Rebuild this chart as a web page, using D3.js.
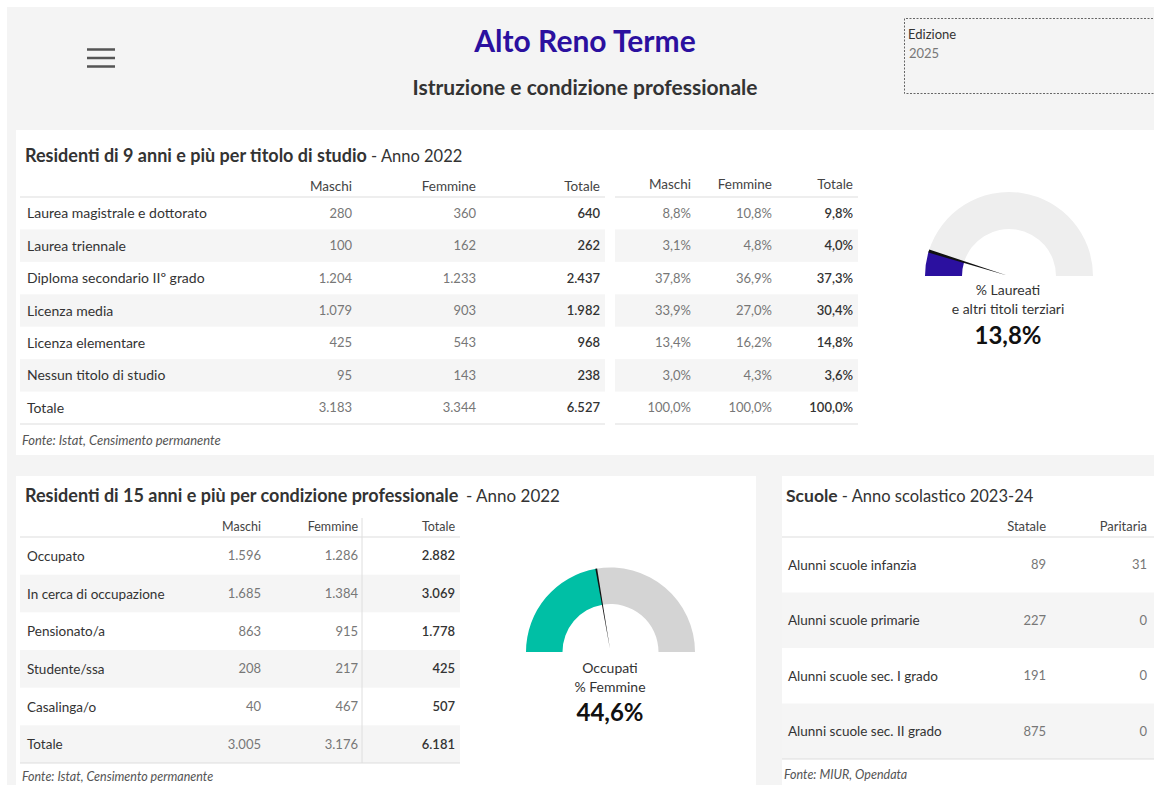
<!DOCTYPE html>
<html>
<head>
<meta charset="utf-8">
<script src="https://cdn.jsdelivr.net/npm/d3@7"></script>
<style>
  html, body { margin: 0; padding: 0; background: #fff; }
  svg { display: block; font-family: Lato, "Open Sans", sans-serif; }
</style>
</head>
<body>
<svg id="chart" width="1154" height="785"></svg>
<script>
// ---------------- DATA ----------------
const pageTitle = "Alto Reno Terme";
const pageSubtitle = "Istruzione e condizione professionale";
const edizioneLabel = "Edizione";
const edizioneValue = "2025";

const studioTitle = "Residenti di 9 anni e più per titolo di studio";
const studioYear = " - Anno 2022";
const studioColumns = ["Maschi", "Femmine", "Totale"];
const studioCategories = ["Laurea magistrale e dottorato", "Laurea triennale", "Diploma secondario IIº grado", "Licenza media", "Licenza elementare", "Nessun titolo di studio", "Totale"];
const studioMaschi = [280, 100, 1204, 1079, 425, 95, 3183];
const studioFemmine = [360, 162, 1233, 903, 543, 143, 3344];
const studioTotale = [640, 262, 2437, 1982, 968, 238, 6527];
const studioPctMaschi = [8.8, 3.1, 37.8, 33.9, 13.4, 3.0, 100.0];
const studioPctFemmine = [10.8, 4.8, 36.9, 27.0, 16.2, 4.3, 100.0];
const studioPctTotale = [9.8, 4.0, 37.3, 30.4, 14.8, 3.6, 100.0];
const studioSource = "Fonte: Istat, Censimento permanente";

const laureatiLabel = ["% Laureati", "e altri titoli terziari"];
const laureatiValue = 13.8;      // shown value
const laureatiArc = 9.6;         // filled share as drawn in the gauge

const condTitle = "Residenti di 15 anni e più per condizione professionale";
const condYear = "- Anno 2022";
const condColumns = ["Maschi", "Femmine", "Totale"];
const condCategories = ["Occupato", "In cerca di occupazione", "Pensionato/a", "Studente/ssa", "Casalinga/o", "Totale"];
const condMaschi = [1596, 1685, 863, 208, 40, 3005];
const condFemmine = [1286, 1384, 915, 217, 467, 3176];
const condTotale = [2882, 3069, 1778, 425, 507, 6181];
const condSource = "Fonte: Istat, Censimento permanente";

const occupatiLabel = ["Occupati", "% Femmine"];
const occupatiFemminePct = 44.6;

const scuoleTitle = "Scuole";
const scuoleYear = " - Anno scolastico 2023-24";
const scuoleColumns = ["Statale", "Paritaria"];
const scuoleCategories = ["Alunni scuole infanzia", "Alunni scuole primarie", "Alunni scuole sec. I grado", "Alunni scuole sec. II grado"];
const scuoleStatale = [89, 227, 191, 875];
const scuoleParitaria = [31, 0, 0, 0];
const scuoleSource = "Fonte: MIUR, Opendata";

// ---------------- HELPERS ----------------
const it = d3.formatLocale({decimal: ",", thousands: ".", grouping: [3], currency: ["€", ""]});
const fInt = it.format(",d");
const fPct = v => it.format(".1f")(v) + "%";

const svg = d3.select("#chart");
const C = {
  bg: "#f4f4f4", stripe: "#f5f5f5", line: "#dedede", dark: "#333333", grey: "#777777",
  blue: "#2b109f", teal: "#00bfa5"
};

// backgrounds
svg.append("rect").attr("x", 7).attr("y", 7).attr("width", 1147).attr("height", 778).attr("fill", C.bg);
svg.append("rect").attr("x", 16).attr("y", 130).attr("width", 1138).attr("height", 325).attr("fill", "#fff");
svg.append("rect").attr("x", 16).attr("y", 476).attr("width", 740).attr("height", 309).attr("fill", "#fff");
svg.append("rect").attr("x", 782).attr("y", 476).attr("width", 372).attr("height", 309).attr("fill", "#fff");

// header
const ham = svg.append("g");
[49.5, 58, 66.5].forEach(y => ham.append("line").attr("x1", 87).attr("x2", 115).attr("y1", y).attr("y2", y)
  .attr("stroke", "#555").attr("stroke-width", 2.5));
svg.append("text").attr("x", 585).attr("y", 52).attr("text-anchor", "middle")
  .attr("font-size", 30).attr("font-weight", 700).attr("fill", C.blue).text(pageTitle);
svg.append("text").attr("x", 585).attr("y", 95).attr("text-anchor", "middle")
  .attr("font-size", 21).attr("font-weight", 700).attr("fill", C.dark).text(pageSubtitle);
svg.append("path").attr("d", "M1160,18.5H904.5V93.5H1160")
  .attr("fill", "none").attr("stroke", "#666").attr("stroke-dasharray", "2,1.5");
svg.append("text").attr("x", 908).attr("y", 39).attr("font-size", 13).attr("fill", C.dark).text(edizioneLabel);
svg.append("text").attr("x", 909).attr("y", 58).attr("font-size", 13).attr("fill", C.grey).text(edizioneValue);

function titleText(x, y, bold, rest, size, restSize) {
  const t = svg.append("text").attr("x", x).attr("y", y).attr("font-size", size).attr("fill", C.dark);
  t.append("tspan").attr("font-weight", 700).text(bold);
  if (rest) t.append("tspan").attr("font-weight", 400).attr("font-size", restSize || size).text(rest);
  return t;
}

// generic table drawing
function drawTable(opt) {
  const g = svg.append("g");
  const y = d3.scaleBand().domain(d3.range(opt.rows.length)).range([opt.top, opt.bottom]);
  opt.stripeSpans.forEach(([x0, x1]) => {
    g.selectAll(null).data(d3.range(opt.rows.length).filter(i => i % 2 === 1)).join("rect")
      .attr("x", x0).attr("width", x1 - x0).attr("y", i => y(i)).attr("height", y.bandwidth())
      .attr("fill", C.stripe);
    g.append("line").attr("x1", x0).attr("x2", x1).attr("y1", opt.top).attr("y2", opt.top).attr("stroke", C.line).attr("stroke-width", 1.2);
    g.append("line").attr("x1", x0).attr("x2", x1).attr("y1", opt.bottom).attr("y2", opt.bottom).attr("stroke", C.line).attr("stroke-width", 1.2);
  });
  if (opt.vline) {
    g.append("line").attr("x1", opt.vline[0]).attr("x2", opt.vline[0]).attr("y1", opt.vline[1]).attr("y2", opt.bottom)
      .attr("stroke", C.line);
  }
  if (opt.rows && opt.labelX != null) {
    g.selectAll(null).data(opt.rows).join("text")
      .attr("x", opt.labelX).attr("y", (d, i) => y(i) + y.bandwidth() / 2 + 5)
      .attr("font-size", opt.labelSize).attr("fill", C.dark).text(d => d);
  }
  opt.columns.forEach(col => {
    g.append("text").attr("x", col.x).attr("y", opt.headerY).attr("text-anchor", "end")
      .attr("font-size", opt.headerSize).attr("fill", "#444").text(col.name);
    g.selectAll(null).data(col.values).join("text")
      .attr("x", col.x).attr("y", (d, i) => y(i) + y.bandwidth() / 2 + 4.5).attr("text-anchor", "end")
      .attr("font-size", opt.fontSize).attr("fill", col.strong ? C.dark : C.grey)
      .attr("font-weight", col.strong ? 600 : 400).text(d => col.fmt(d));
  });
  return g;
}

// ---------- Panel 1 ----------
titleText(25, 162, studioTitle, studioYear, 18, 16.5);
drawTable({
  rows: studioCategories, top: 197, bottom: 424, labelX: 27, labelSize: 14, fontSize: 13, headerSize: 13.5, headerY: 191,
  stripeSpans: [[20, 605], [615, 858]],
  columns: [
    {name: studioColumns[0], x: 352, values: studioMaschi, fmt: fInt},
    {name: studioColumns[1], x: 476, values: studioFemmine, fmt: fInt},
    {name: studioColumns[2], x: 600, values: studioTotale, fmt: fInt, strong: true},
  ]
});
drawTable({
  rows: studioCategories, top: 197, bottom: 424, labelX: null, fontSize: 13, headerSize: 13.5, headerY: 189,
  stripeSpans: [],
  columns: [
    {name: studioColumns[0], x: 691, values: studioPctMaschi, fmt: fPct},
    {name: studioColumns[1], x: 772, values: studioPctFemmine, fmt: fPct},
    {name: studioColumns[2], x: 853, values: studioPctTotale, fmt: fPct, strong: true},
  ]
});
svg.append("text").attr("x", 22).attr("y", 445).attr("font-size", 13).attr("font-style", "italic")
  .attr("fill", "#555").text(studioSource);

// ---------- Gauges ----------
const angle = d3.scaleLinear().domain([0, 100]).range([-Math.PI / 2, Math.PI / 2]);
function gauge(cx, cy, rOut, rIn, arcValue, color, restColor, needleW) {
  const g = svg.append("g").attr("transform", `translate(${cx},${cy})`);
  const arc = d3.arc().innerRadius(rIn).outerRadius(rOut);
  g.append("path").attr("d", arc({startAngle: angle(arcValue), endAngle: angle(100)})).attr("fill", restColor);
  g.append("path").attr("d", arc({startAngle: angle(0), endAngle: angle(arcValue)})).attr("fill", color);
  const a = angle(arcValue);
  const ux = Math.sin(a), uy = -Math.cos(a);
  const px = -uy, py = ux;
  const pts = [
    [ux * rOut + px * needleW, uy * rOut + py * needleW],
    [ux * rOut - px * needleW, uy * rOut - py * needleW],
    [ux * 2, uy * 2]
  ];
  g.append("path").attr("d", d3.line()(pts) + "Z").attr("fill", "#111");
  return g;
}
function gaugeText(cx, lines, ys, value, vy) {
  lines.forEach((l, i) => svg.append("text").attr("x", cx).attr("y", ys[i]).attr("text-anchor", "middle")
    .attr("font-size", 14).attr("fill", C.dark).text(l));
  svg.append("text").attr("x", cx).attr("y", vy).attr("text-anchor", "middle")
    .attr("font-size", 24).attr("font-weight", 700).attr("fill", "#111").text(fPct(value));
}
gauge(1009, 276, 84, 47, laureatiArc, C.blue, "#eeeeee", 1.6);
gaugeText(1008, laureatiLabel, [295, 314], laureatiValue, 344);

gauge(610.5, 652, 84.5, 48, occupatiFemminePct, C.teal, "#d4d4d4", 0.9);
gaugeText(610, occupatiLabel, [673, 692], occupatiFemminePct, 721);

// ---------- Panel 2 ----------
titleText(25, 502, condTitle, null, 18);
svg.append("text").attr("x", 466).attr("y", 502).attr("font-size", 17).attr("fill", C.dark).text(condYear);
drawTable({
  rows: condCategories, top: 537, bottom: 763, labelX: 27, labelSize: 13.5, fontSize: 13, headerSize: 12.5, headerY: 531,
  stripeSpans: [[20, 460]], vline: [362, 518],
  columns: [
    {name: condColumns[0], x: 261, values: condMaschi, fmt: fInt},
    {name: condColumns[1], x: 358, values: condFemmine, fmt: fInt},
    {name: condColumns[2], x: 455, values: condTotale, fmt: fInt, strong: true},
  ]
});
svg.append("text").attr("x", 22).attr("y", 781).attr("font-size", 12.5).attr("font-style", "italic")
  .attr("fill", "#555").text(condSource);

// ---------- Panel 3 ----------
titleText(786, 502, scuoleTitle, scuoleYear, 17.5, 16.5);
drawTable({
  rows: scuoleCategories, top: 537, bottom: 759, labelX: 788, labelSize: 13.5, fontSize: 13, headerSize: 13, headerY: 531,
  stripeSpans: [[782, 1154]],
  columns: [
    {name: scuoleColumns[0], x: 1046, values: scuoleStatale, fmt: fInt},
    {name: scuoleColumns[1], x: 1147, values: scuoleParitaria, fmt: fInt},
  ]
});
svg.append("text").attr("x", 784).attr("y", 779).attr("font-size", 12.5).attr("font-style", "italic")
  .attr("fill", "#555").text(scuoleSource);
</script>
</body>
</html>
